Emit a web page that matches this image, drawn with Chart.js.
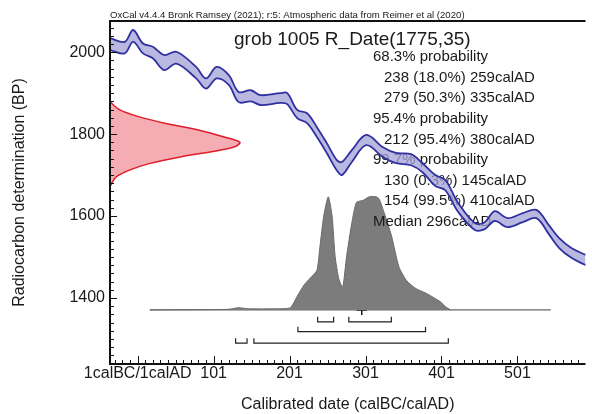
<!DOCTYPE html>
<html><head><meta charset="utf-8">
<script src="https://cdn.jsdelivr.net/npm/chart.js@4.4.1/dist/chart.umd.min.js"></script>
<style>html,body{margin:0;padding:0;background:#fff;overflow:hidden}canvas{display:block}</style>
</head><body>
<canvas id="c" width="592" height="414"></canvas>
<script>
// ---- data ----
const curveYears = [-35, -16, -5, 8, 21, 36, 52, 78, 91, 105, 121, 134, 150, 163, 189, 198, 211, 224, 237, 250, 263, 270, 283, 302, 324, 341, 361, 376, 393, 406, 423, 445, 458, 471, 488, 508, 526, 543, 556, 572, 591];
const curveUpper = [2034, 2025, 2054, 2021, 2013, 1993, 2001, 1964, 1936, 1964, 1944, 1903, 1907, 1895, 1900, 1900, 1859, 1851, 1817, 1778, 1737, 1732, 1761, 1798, 1768, 1754, 1751, 1729, 1700, 1688, 1632, 1583, 1585, 1612, 1595, 1607, 1615, 1576, 1546, 1522, 1505];
const curveLower = [2005, 1997, 2025, 1997, 1985, 1956, 1972, 1936, 1911, 1936, 1920, 1878, 1880, 1871, 1876, 1873, 1839, 1827, 1793, 1754, 1712, 1700, 1732, 1773, 1744, 1729, 1724, 1707, 1673, 1663, 1610, 1566, 1568, 1588, 1573, 1585, 1595, 1554, 1522, 1498, 1480];

const likeBP   = [1879, 1859, 1842, 1826, 1810, 1793, 1780, 1769, 1757, 1745, 1728, 1712, 1696, 1680, 1671];
const likeProb = [0, 0.076, 0.227, 0.43, 0.68, 0.88, 1.0, 0.96, 0.78, 0.55, 0.30, 0.15, 0.05, 0.013, 0];

const postYears = [17, 120, 134, 146, 185, 202, 211, 220, 228, 237, 241, 246, 252, 257, 261, 266, 271, 276, 283, 289, 298, 306, 315, 319, 326, 335, 345, 355, 367, 380, 393, 400, 406, 413];
const postProb  = [0, 0.005, 0.02, 0.01, 0.01, 0.02, 0.12, 0.22, 0.28, 0.35, 0.56, 0.83, 1.0, 0.83, 0.47, 0.27, 0.20, 0.47, 0.77, 0.95, 0.97, 1.0, 1.0, 0.98, 0.85, 0.66, 0.38, 0.26, 0.19, 0.15, 0.10, 0.07, 0.03, 0];
const postRange = [17, 545];
const median = 296;

const range68 = [[238, 259], [279, 335]];
const range95 = [[212, 380]];
const range997 = [[130, 145], [154, 410]];

const headerText = "OxCal v4.4.4 Bronk Ramsey (2021); r:5: Atmospheric data from Reimer et al (2020)";
const titleText = "grob 1005 R_Date(1775,35)";
const infoLines = [
  ["68.3% probability", 0],
  ["238 (18.0%) 259calAD", 1],
  ["279 (50.3%) 335calAD", 1],
  ["95.4% probability", 0],
  ["212 (95.4%) 380calAD", 1],
  ["99.7% probability", 0],
  ["130 (0.3%) 145calAD", 1],
  ["154 (99.5%) 410calAD", 1],
  ["Median 296calAD", 0]
];
const xLabelMajor = 100;   // label every 100 years
const yLabelMajor = 200;   // label every 200 BP

// ---- scale / layout settings ----
const X_MIN = -35.4, X_MAX = 590.6, Y_MIN = 1239, Y_MAX = 2076;
const LIKE_SCALE = 171;          // x-extent (years) of the likelihood peak
const POST_BASE = 1371, POST_SCALE = 276;
const BRACKET_ROWS = [[1342, 1354], [1318, 1330], [1290, 1302]];
const FONT = "'Liberation Sans', Arial, sans-serif";

const BLUE = 'rgb(48,48,160)', LAV = 'rgba(160,160,215,0.75)';
const RED = 'rgb(222,30,40)', PINK = 'rgba(242,150,158,0.78)';

const datasets = [];
datasets.push({
  data: curveYears.map((x, i) => ({x, y: curveUpper[i]})),
  borderColor: BLUE, borderWidth: 1.8, pointRadius: 0, tension: 0.35, fill: false
});
datasets.push({
  data: curveYears.map((x, i) => ({x, y: curveLower[i]})),
  borderColor: BLUE, borderWidth: 1.8, pointRadius: 0, tension: 0.35,
  fill: '-1', backgroundColor: LAV
});
datasets.push({
  data: likeBP.map((bp, i) => ({x: X_MIN + likeProb[i] * LIKE_SCALE, y: bp})),
  borderColor: RED, borderWidth: 1.5, pointRadius: 0, tension: 0.3,
  fill: 'shape', backgroundColor: PINK
});
const POST_INDEX = datasets.length;
datasets.push({
  data: postYears.map((x, i) => ({x, y: POST_BASE + postProb[i] * POST_SCALE})),
  borderColor: '#6a6a6a', borderWidth: 1, pointRadius: 0, tension: 0.2,
  fill: {value: POST_BASE}, backgroundColor: '#7c7c7c'
});
datasets.push({
  data: postRange.map(x => ({x, y: POST_BASE})),
  borderColor: '#444', borderWidth: 1, pointRadius: 0, fill: false
});
[range68, range95, range997].forEach((rng, r) => {
  const [lineY, topY] = BRACKET_ROWS[r];
  const pts = [];
  rng.forEach(([a, b], k) => {
    if (k) pts.push({x: a, y: null});
    pts.push({x: a, y: topY}, {x: a, y: lineY}, {x: b, y: lineY}, {x: b, y: topY});
  });
  datasets.push({data: pts, borderColor: '#222', borderWidth: 1.2, pointRadius: 0, fill: false, spanGaps: false, tension: 0});
});
datasets.push({
  data: [{x: median, y: POST_BASE}],
  showLine: false, pointStyle: 'cross', pointRadius: 5, borderColor: '#111', borderWidth: 1.5
});

function drawTexts(chart) {
  const ctx = chart.ctx;
  ctx.save();
  ctx.fillStyle = '#1a1a1a';
  ctx.textBaseline = 'middle';
  ctx.textAlign = 'left';
  ctx.font = '9.6px ' + FONT;
  ctx.fillText(headerText, 110, 15);
  ctx.font = '19px ' + FONT;
  ctx.fillText(titleText, 234, 40);
  ctx.font = '15px ' + FONT;
  infoLines.forEach(([t, ind], i) => {
    ctx.fillText(t, ind ? 384 : 373, 57 + i * 20.6);
  });
  ctx.restore();
}

const oxPlugin = {
  id: 'ox',
  afterDatasetDraw(chart, args) {
    if (args.index === POST_INDEX) drawTexts(chart);
  },
  afterDraw(chart) {
    const ctx = chart.ctx, a = chart.chartArea;
    const xs = chart.scales.x, ys = chart.scales.y;
    ctx.save();
    ctx.strokeStyle = '#111';
    ctx.lineWidth = 1;
    ctx.beginPath();
    xs.ticks.forEach(t => {
      const px = Math.round(xs.getPixelForValue(t.value)) + 0.5;
      const major = ((t.value - 1) % xLabelMajor === 0);
      ctx.moveTo(px, a.bottom); ctx.lineTo(px, a.bottom - (major ? 8 : 4));
    });
    ys.ticks.forEach(t => {
      const py = Math.round(ys.getPixelForValue(t.value)) + 0.5;
      const major = (t.value % yLabelMajor === 0);
      ctx.moveTo(a.left, py); ctx.lineTo(a.left + (major ? 7 : 4), py);
    });
    ctx.stroke();
    ctx.lineWidth = 2;
    ctx.beginPath();
    ctx.moveTo(a.left, a.top); ctx.lineTo(a.left, a.bottom); ctx.lineTo(a.right, a.bottom);
    ctx.moveTo(a.left - 1, a.top); ctx.lineTo(a.right, a.top);
    ctx.stroke();
    ctx.restore();
  }
};

new Chart(document.getElementById('c'), {
  type: 'line',
  data: {datasets},
  plugins: [oxPlugin],
  options: {
    responsive: false, animation: false, devicePixelRatio: 1,
    layout: {padding: {top: 21, right: 0, left: 0, bottom: 0}},
    plugins: {legend: {display: false}, tooltip: {enabled: false}},
    scales: {
      x: {
        type: 'linear', min: X_MIN, max: X_MAX,
        grid: {display: false, drawTicks: false}, border: {display: false},
        afterFit(s) { s.height = 50; },
        afterBuildTicks(s) {
          const t = [];
          for (let v = -29; v <= X_MAX; v += 10) t.push({value: v});
          s.ticks = t;
        },
        ticks: {
          autoSkip: false, maxRotation: 0, padding: 0, color: '#1a1a1a',
          font: {family: FONT, size: 16},
          callback: v => v === 1 ? '1calBC/1calAD' : ((v - 1) % xLabelMajor === 0 ? String(v) : '')
        },
        title: {display: true, text: 'Calibrated date (calBC/calAD)', color: '#1a1a1a',
          font: {family: FONT, size: 16}, padding: {top: 0, bottom: 0}}
      },
      y: {
        type: 'linear', min: Y_MIN, max: Y_MAX,
        grid: {display: false, drawTicks: false}, border: {display: false},
        afterFit(s) { s.width = 110; },
        afterBuildTicks(s) {
          const t = [];
          for (let v = 1240; v <= Y_MAX; v += 20) t.push({value: v});
          s.ticks = t;
        },
        ticks: {
          autoSkip: false, padding: 5, color: '#1a1a1a',
          font: {family: FONT, size: 16},
          callback: v => (v % yLabelMajor === 0 ? String(v) : '')
        },
        title: {display: true, text: 'Radiocarbon determination (BP)', color: '#1a1a1a',
          font: {family: FONT, size: 16}, padding: {top: 10, bottom: 0}}
      }
    }
  }
});
</script>
</body></html>
